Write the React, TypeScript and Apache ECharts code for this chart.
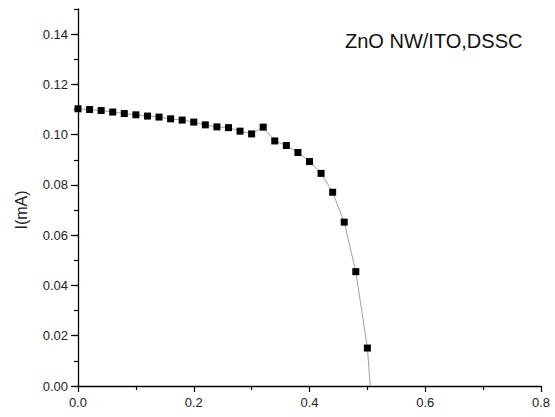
import React, { useEffect, useRef } from "react";
import * as echarts from "echarts";

const voltage = [0, 0.02, 0.04, 0.06, 0.08, 0.10, 0.12, 0.14, 0.16, 0.18, 0.20, 0.22, 0.24, 0.26, 0.28, 0.30, 0.32, 0.34, 0.36, 0.38, 0.40, 0.42, 0.44, 0.46, 0.48, 0.50, 0.505];
const current = [0.1103, 0.1100, 0.1096, 0.1090, 0.1084, 0.1079, 0.1074, 0.1070, 0.1063, 0.1058, 0.1050, 0.1039, 0.1031, 0.1028, 0.1014, 0.1003, 0.1030, 0.0975, 0.0957, 0.0929, 0.0893, 0.0846, 0.0771, 0.0652, 0.0455, 0.0151, 0];
const yMajorTicks = [0, 0.02, 0.04, 0.06, 0.08, 0.10, 0.12, 0.14];
const titleText = "ZnO NW/ITO,DSSC";
const yName = "I(mA)";

const FONT = "Liberation Sans, Arial, sans-serif";

export default function App() {
  const ref = useRef<HTMLDivElement>(null);
  useEffect(() => {
    if (!ref.current) return;
    const chart = echarts.init(ref.current, undefined, { renderer: "svg" });
    const W = 555, H = 417;
    const top = 9, bottom = 31, left = 78, right = 14;
    const yMax = 0.15;
    const yTopMajor = yMajorTicks[yMajorTicks.length - 1];
    const plotH = H - top - bottom;
    const top2 = top + ((yMax - yTopMajor) / yMax) * plotH;
    const n = voltage.length;
    const data = voltage.map((x, i) => ({
      value: [x, current[i]],
      symbolSize: i === n - 1 ? 0 : 7,
    }));
    chart.setOption({
      animation: false,
      backgroundColor: "#fff",
      grid: [
        { left, right, top, bottom },
        { left, right, top: top2, bottom },
      ],
      xAxis: [
        {
          gridIndex: 0,
          type: "value",
          min: 0,
          max: 0.8,
          interval: 0.2,
          axisLine: { show: true, onZero: false, lineStyle: { color: "#000", width: 1.3 } },
          axisTick: { show: true, length: 6, lineStyle: { color: "#000", width: 1.2 } },
          minorTick: { show: true, splitNumber: 2, length: 4, lineStyle: { color: "#000", width: 1.2 } },
          splitLine: { show: false },
          axisLabel: {
            margin: 10,
            fontSize: 13,
            color: "#222",
            fontFamily: FONT,
            formatter: (v: number) => v.toFixed(1),
          },
        },
        {
          gridIndex: 1,
          type: "value",
          min: 0,
          max: 0.8,
          show: false,
        },
      ],
      yAxis: [
        {
          gridIndex: 0,
          type: "value",
          min: 0,
          max: yMax,
          interval: 0.01,
          axisLine: { show: true, onZero: false, lineStyle: { color: "#000", width: 1.3 } },
          axisTick: { show: true, length: 4, lineStyle: { color: "#000", width: 1.2 } },
          splitLine: { show: false },
          axisLabel: { show: false },
        },
        {
          gridIndex: 1,
          type: "value",
          min: 0,
          max: yTopMajor,
          interval: 0.02,
          axisLine: { show: false },
          axisTick: { show: true, length: 7, lineStyle: { color: "#000", width: 1.2 } },
          splitLine: { show: false },
          axisLabel: {
            margin: 10,
            fontSize: 13,
            color: "#222",
            fontFamily: FONT,
            formatter: (v: number) => v.toFixed(2),
          },
        },
      ],
      series: [
        {
          type: "line",
          xAxisIndex: 0,
          yAxisIndex: 0,
          data,
          symbol: "rect",
          showSymbol: true,
          lineStyle: { color: "#a0a0a0", width: 1 },
          itemStyle: { color: "#000" },
          clip: false,
        },
      ],
      graphic: [
        {
          type: "text",
          left: 345,
          top: 31,
          style: {
            text: titleText,
            font: `20px ${FONT}`,
            fill: "#111",
          },
        },
        {
          type: "text",
          x: 21,
          y: 210,
          rotation: Math.PI / 2,
          style: {
            text: yName,
            font: `16px ${FONT}`,
            fill: "#222",
            align: "center",
            verticalAlign: "middle",
          },
        },
      ],
    });
    return () => chart.dispose();
  }, []);
  return (
    <div
      ref={ref}
      style={{ position: "fixed", left: 0, top: 0, width: 555, height: 417 }}
    />
  );
}
